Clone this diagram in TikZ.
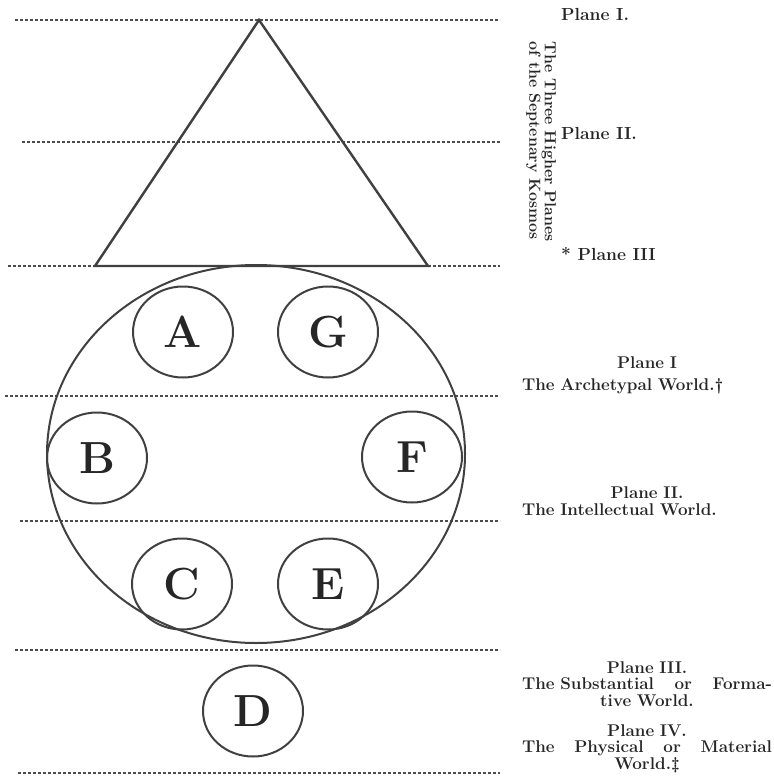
\documentclass[tikz,border=0pt]{standalone}
\usepackage{tikz}
\usetikzlibrary{shapes.geometric}

\begin{document}
\begin{tikzpicture}[x=1pt,y=-1pt]
            \tikzstyle{plane line}=[draw=black!70, line width=2pt, dash pattern=on 3pt off 2pt]
            \tikzstyle{globe}=[ellipse, draw=black!75, line width=2pt, minimum width=100pt, minimum height=91pt, inner sep=0pt, font=\fontsize{45}{45}\selectfont\bfseries, text=black!85]
            \tikzstyle{planetext}=[font=\fontsize{17.5}{17}\selectfont\bfseries, inner sep=0pt, text=black!85]
            \tikzstyle{worldtext}=[planetext, font=\fontsize{17}{16.5}\selectfont\bfseries, text width=250pt, align=center, anchor=north]
            \useasboundingbox (0,0) rectangle (773,778);
            % the planes
            \foreach \y/\xa in {20/15, 142/22, 266/8, 396/5, 521/20, 650/15, 773/18}
                \draw[plane line] (\xa,\y) -- (500,\y);
            % the three higher planes
            \coordinate (apex) at (259,20);
            \coordinate (base right) at (428,266);
            \coordinate (base left) at (95,266);
            \draw[draw=black!75, line width=2.4pt] (apex) -- (base right) -- (base left) -- cycle;
            % the chain of globes
            \node[ellipse, draw=black!75, line width=2pt, minimum width=418pt, minimum height=378pt] (chain) at (256,454) {};
            \node[globe] (A) at (183,332) {A};
            \node[globe] (G) at (328,332) {G};
            \node[globe] (B) at (97,458) {B};
            \node[globe] (F) at (412,457) {F};
            \node[globe] (C) at (182,584) {C};
            \node[globe] (E) at (328,584) {E};
            \node[globe] (D) at (253,711) {D};
            % labels
            \node[planetext, anchor=west] (plane one) at (561,14) {Plane I.};
            \node[planetext, anchor=west] (plane two) at (561,133) {Plane II.};
            \node[planetext, anchor=west] (plane three) at (561,254) {* Plane III};
            \node[planetext, rotate=-90, align=left, font=\fontsize{16}{14}\selectfont\bfseries] (kosmos) at (541,142) {The Three Higher Planes\\of the Septenary Kosmos};
            \node[worldtext] (archetypal) at (647,356) {Plane I\\[6pt] The Archetypal World.\textdagger\hfill\null};
            \node[worldtext] (intellectual) at (647,486) {Plane II.\\[1pt] The Intellectual World.\hfill\null};
            \node[worldtext] (formative) at (647,661) {Plane III.\\ The Substantial\hfill or\hfill Forma-\\ tive World.};
            \node[worldtext] (material) at (647,724) {Plane IV.\\ The\hfill Physical\hfill or\hfill Material\\ World.\textdaggerdbl};
\end{tikzpicture}
\end{document}
